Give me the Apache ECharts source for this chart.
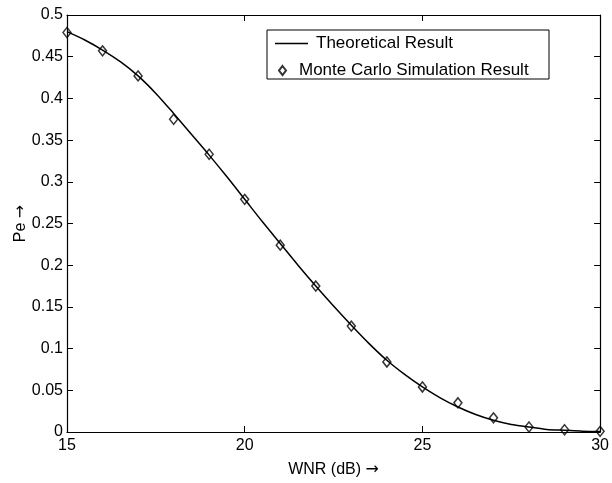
<!DOCTYPE html>
<html><head><meta charset="utf-8">
<script src="https://cdn.jsdelivr.net/npm/echarts@6/dist/echarts.min.js"></script>
<style>html,body{margin:0;padding:0;background:#fff}#c{width:612px;height:483px}</style>
</head><body><div id="c"></div>
<script>
// Theoretical curve
const theoX = [15,15.5,16,16.5,17,17.5,18,18.5,19,19.5,20,20.5,21,21.5,22,22.5,23,23.5,24,24.5,25,25.5,26,26.5,27,27.5,28,28.5,29,29.5,30];
const theoY = [0.480,0.470,0.458,0.444,0.427,0.406,0.382,0.357,0.332,0.306,0.279,0.252,0.226,0.200,0.175,0.151,0.128,0.106,0.086,0.069,0.054,0.041,0.030,0.021,0.014,0.009,0.006,0.003,0.002,0.001,0.0005];
// Monte Carlo simulation points
const mcX = [15,16,17,18,19,20,21,22,23,24,25,26,27,28,29,30];
const mcY = [0.479,0.457,0.427,0.375,0.333,0.279,0.224,0.175,0.127,0.084,0.054,0.035,0.017,0.006,0.0027,0.0008];
const xTicks = [15,20,25,30];
const yTicks = [0,0.05,0.1,0.15,0.2,0.25,0.3,0.35,0.4,0.45,0.5];
const seriesNames = ['Theoretical Result','Monte Carlo Simulation Result'];
const xName = 'WNR (dB) {a|\u2192}';
const yName = 'Pe {a|\u2192}';

const FONT = "'Liberation Sans', Arial, sans-serif";
const ARROW = {a:{fontFamily:"'DejaVu Sans'", fontSize:16, color:'#000'}};
const chart = echarts.init(document.getElementById('c'), null, {renderer:'canvas'});
const tickStyle = {show:true, inside:true, length:6, lineStyle:{color:'#000', width:1}};
const lineStyle = {show:true, onZero:false, lineStyle:{color:'#000', width:1.2}};
chart.setOption({
  backgroundColor:'#fff',
  animation:false,
  textStyle:{fontFamily:FONT},
  grid:{left:67, right:5, top:15, bottom:43, containLabel:false},
  xAxis:[{
    type:'value', min:15, max:30, interval:5, position:'bottom',
    axisLine:lineStyle, axisTick:tickStyle, splitLine:{show:false},
    axisLabel:{color:'#000', fontSize:16, fontFamily:FONT, margin:6,
      formatter:v=>xTicks.includes(v)?String(v):''},
    name:xName, nameLocation:'middle', nameGap:30,
    nameTextStyle:{color:'#000', fontSize:16, fontFamily:FONT, rich:ARROW}
  },{
    type:'value', min:15, max:30, interval:5, position:'top',
    axisLine:lineStyle, axisTick:tickStyle, splitLine:{show:false}, axisLabel:{show:false}
  }],
  yAxis:[{
    type:'value', min:0, max:0.5, interval:0.05, position:'left',
    axisLine:lineStyle, axisTick:tickStyle, splitLine:{show:false},
    axisLabel:{color:'#000', fontSize:16, fontFamily:FONT, margin:4,
      formatter:v=>{const t=yTicks.find(k=>Math.abs(k-v)<1e-9);return t===undefined?'':String(t);}},
    name:yName, nameLocation:'middle', nameGap:38, nameRotate:90, nameMoveOverlap:false,
    nameTextStyle:{color:'#000', fontSize:16, fontFamily:FONT, rich:ARROW}
  },{
    type:'value', min:0, max:0.5, interval:0.05, position:'right',
    axisLine:lineStyle, axisTick:tickStyle, splitLine:{show:false}, axisLabel:{show:false}
  }],
  graphic:[{
    type:'rect', z:90, shape:{x:267, y:30, width:282, height:49},
    style:{fill:'#fff', stroke:'#000', lineWidth:1}
  }],
  legend:[{
    z:100, left:275, top:35, data:[{name:seriesNames[0], icon:'rect'}],
    itemWidth:33, itemHeight:1.6, padding:0,
    textStyle:{color:'#000', fontSize:17, fontFamily:FONT, padding:[0,0,0,3]}
  },{
    z:100, left:278, top:62, data:[seriesNames[1]],
    itemWidth:7, itemHeight:9, padding:0,
    textStyle:{color:'#000', fontSize:17, fontFamily:FONT, padding:[0,0,0,8]}
  }],
  series:[{
    name:seriesNames[0], type:'line', showSymbol:false, symbol:'none',
    smooth:0.3,
    data:theoX.map((x,i)=>[x,theoY[i]]),
    lineStyle:{color:'#000', width:1.5}, itemStyle:{color:'#000'}, z:3
  },{
    name:seriesNames[1], type:'scatter', symbol:'diamond', symbolSize:[8,10],
    data:mcX.map((x,i)=>[x,mcY[i]]),
    itemStyle:{color:'rgba(0,0,0,0)', borderColor:'#000', borderWidth:1.5}, z:4
  }]
});
</script></body></html>
